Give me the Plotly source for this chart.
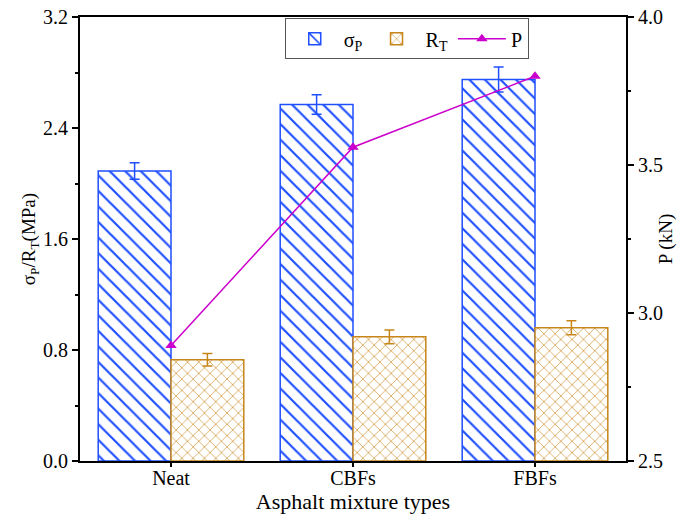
import plotly.graph_objects as go

categories = ["Neat", "CBFs", "FBFs"]
sigma_p = [2.09, 2.57, 2.75]
sigma_p_err = [0.06, 0.07, 0.09]
r_t = [0.73, 0.895, 0.96]
r_t_err = [0.045, 0.05, 0.05]
p_kn = [2.89, 3.56, 3.80]

blue = "#1F4FFF"
gold = "#C8861A"
mag = "#CC00CC"
font = "Liberation Serif, Times New Roman, serif"
tick_f = dict(family=font, size=20, color="black")
xt_f = dict(family=font, size=22, color="black")
yt_f = dict(family=font, size=19, color="black")
leg_f = dict(family=font, size=20, color="black")

fig = go.Figure()
fig.add_trace(go.Bar(
    x=categories, y=sigma_p, name="σ<sub>P</sub>", offsetgroup="a",
    marker=dict(color="white", line=dict(color=blue, width=1.5),
                pattern=dict(shape="\\", fgcolor=blue, bgcolor="white", fgopacity=1,
                             size=11, solidity=0.2)),
    error_y=dict(type="data", array=sigma_p_err, color=blue, thickness=1.5, width=5),
))
fig.add_trace(go.Bar(
    x=categories, y=r_t, name="R<sub>T</sub>", offsetgroup="b",
    marker=dict(color="white", line=dict(color=gold, width=1.5),
                pattern=dict(shape="x", fgcolor=gold, bgcolor="white", fgopacity=1,
                             size=8, solidity=0.15)),
    error_y=dict(type="data", array=r_t_err, color=gold, thickness=1.5, width=5),
))
fig.add_trace(go.Scatter(
    x=categories, y=p_kn, name="P", yaxis="y2", mode="lines+markers",
    line=dict(color=mag, width=1.5),
    marker=dict(symbol="triangle-up", size=10, color=mag),
))

fig.update_layout(
    width=677, height=517,
    margin=dict(l=80, r=51, t=17, b=56),
    plot_bgcolor="white", paper_bgcolor="white",
    font=tick_f,
    barmode="group", bargap=0.2, bargroupgap=0,
    showlegend=True,
    legend=dict(orientation="h", x=0.375, y=0.997, xanchor="left", yanchor="top",
                bordercolor="#555555", borderwidth=1, bgcolor="white",
                font=leg_f, itemwidth=48, tracegroupgap=0),
    xaxis=dict(title=dict(text="Asphalt mixture types", standoff=2, font=xt_f), tickfont=tick_f,
               automargin=False, showline=True, linecolor="black",
               linewidth=2, mirror=True, ticks="outside", ticklen=4, tickwidth=1.5,
               tickcolor="black", range=[-0.5, 2.5], ticklabelstandoff=-6),
    yaxis=dict(title=dict(text="σ<sub>P</sub>/R<sub>T</sub>(MPa)", standoff=2, font=yt_f), tickfont=tick_f,
               automargin=False, range=[0, 3.2],
               tickvals=[0, 0.8, 1.6, 2.4, 3.2], ticktext=["0.0", "0.8", "1.6", "2.4", "3.2"],
               showline=True, linecolor="black", linewidth=2, ticks="outside",
               ticklen=6, tickwidth=1.5, tickcolor="black", showgrid=False, zeroline=False,
               minor=dict(tickvals=[0.4, 1.2, 2.0, 2.8], ticks="outside", ticklen=3,
                          tickwidth=1.5, tickcolor="black")),
    yaxis2=dict(title=dict(text="P (kN)", standoff=8, font=yt_f), tickfont=tick_f,
                automargin=False, range=[2.5, 4.0], overlaying="y", side="right",
                tickvals=[2.5, 3.0, 3.5, 4.0], ticktext=["2.5", "3.0", "3.5", "4.0"],
                showline=True, linecolor="black", linewidth=2, ticks="outside",
                ticklen=6, tickwidth=1.5, tickcolor="black", showgrid=False, zeroline=False,
                minor=dict(tickvals=[2.75, 3.25, 3.75], ticks="outside", ticklen=3,
                           tickwidth=1.5, tickcolor="black")),
)
fig.write_html("out.html")
